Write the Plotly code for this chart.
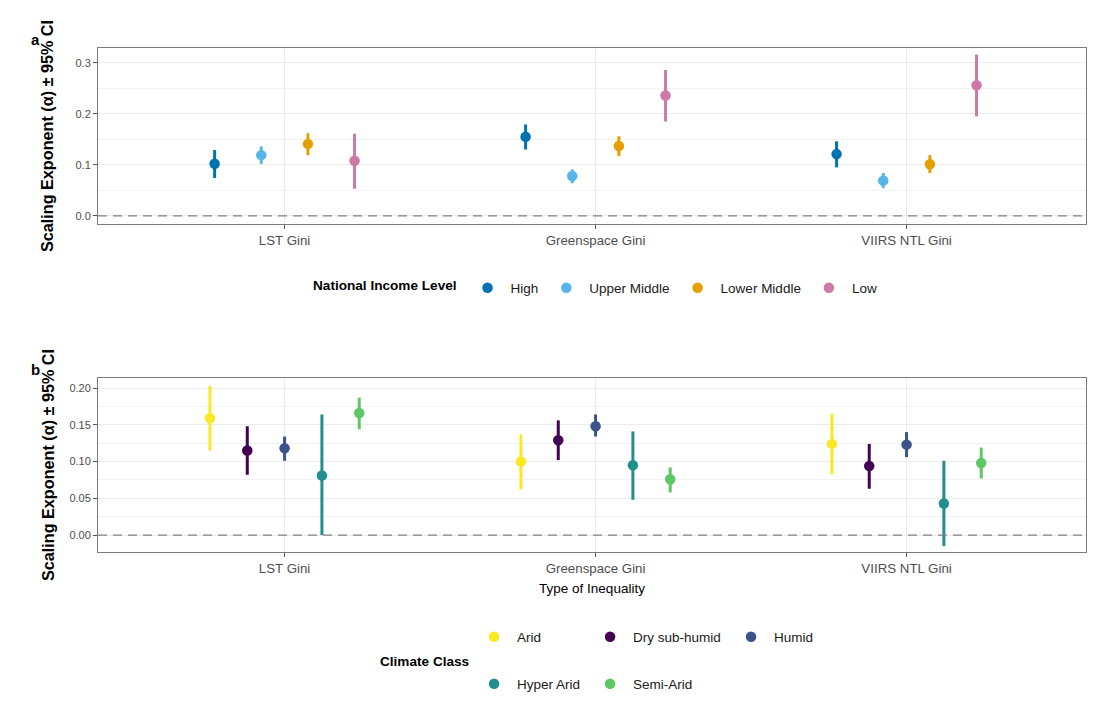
import plotly.graph_objects as go
from plotly.subplots import make_subplots

# categories on the x axis
inequality_types = ["LST Gini", "Greenspace Gini", "VIIRS NTL Gini"]

# panel a: national income level (rows follow income_levels, columns follow inequality_types)
income_levels = ["High", "Upper Middle", "Lower Middle", "Low"]
income_colors = ["#0072B2", "#56B4E9", "#E69F00", "#CC79A7"]
income_est = [
    [0.102, 0.155, 0.121],
    [0.119, 0.078, 0.069],
    [0.141, 0.137, 0.101],
    [0.108, 0.236, 0.256],
]
income_lo = [
    [0.074, 0.130, 0.095],
    [0.102, 0.064, 0.054],
    [0.119, 0.117, 0.084],
    [0.053, 0.185, 0.195],
]
income_hi = [
    [0.129, 0.179, 0.146],
    [0.136, 0.091, 0.084],
    [0.162, 0.156, 0.119],
    [0.161, 0.286, 0.316],
]

# panel b: climate class
climate_classes = ["Arid", "Dry sub-humid", "Humid", "Hyper Arid", "Semi-Arid"]
climate_colors = ["#FDE725", "#440154", "#3B528B", "#21908C", "#5DC863"]
climate_est = [
    [0.159, 0.100, 0.124],
    [0.115, 0.129, 0.094],
    [0.118, 0.148, 0.123],
    [0.081, 0.095, 0.043],
    [0.166, 0.076, 0.098],
]
climate_lo = [
    [0.115, 0.062, 0.083],
    [0.082, 0.102, 0.063],
    [0.101, 0.134, 0.106],
    [0.000, 0.048, -0.015],
    [0.144, 0.058, 0.077],
]
climate_hi = [
    [0.203, 0.137, 0.165],
    [0.148, 0.156, 0.124],
    [0.134, 0.164, 0.140],
    [0.164, 0.141, 0.101],
    [0.187, 0.092, 0.119],
]

FONT = "Liberation Sans, Arial, sans-serif"
DODGE = 0.6
Y_TITLE = "<b>Scaling Exponent (α) ± 95% CI</b>"


def dodge(n, i):
    return -DODGE / 2 + (i + 0.5) * DODGE / n


def add_group(fig, row, names, colors, est, lo, hi, legends):
    n = len(names)
    for i, name in enumerate(names):
        xs = [k + 1 + dodge(n, i) for k in range(len(inequality_types))]
        fig.add_trace(go.Scatter(
            x=xs, y=est[i], mode="markers", name=name,
            marker=dict(color=colors[i], size=10.5),
            error_y=dict(type="data", symmetric=False,
                         array=[h - e for h, e in zip(hi[i], est[i])],
                         arrayminus=[e - l for e, l in zip(est[i], lo[i])],
                         width=0, thickness=3, color=colors[i]),
            legend=legends[i],
        ), row=row, col=1)


fig = make_subplots(rows=2, cols=1)

add_group(fig, 1, income_levels, income_colors, income_est, income_lo, income_hi,
          ["legend"] * 4)
add_group(fig, 2, climate_classes, climate_colors, climate_est, climate_lo, climate_hi,
          ["legend2", "legend3", "legend4", "legend5", "legend6"])

for r in (1, 2):
    fig.add_hline(y=0, line=dict(color="#808080", width=1.2, dash="9px,6px"), row=r, col=1)

axis_common = dict(showline=True, mirror=True, linecolor="#7a7a7a", linewidth=1,
                   ticks="outside", ticklen=4, tickcolor="#555555",
                   gridcolor="#EBEBEB", gridwidth=1, zeroline=False)

for r in (1, 2):
    fig.update_xaxes(range=[0.4, 3.577], tickvals=[1, 2, 3], ticktext=inequality_types,
                     tickfont=dict(family=FONT, size=13.3, color="#4D4D4D"),
                     **axis_common, row=r, col=1)

fig.update_yaxes(range=[-0.016, 0.329], tick0=0, dtick=0.1, tickformat=".1f",
                 minor=dict(dtick=0.05, showgrid=True, gridcolor="#F2F2F2", gridwidth=0.6, ticks=""),
                 tickfont=dict(family=FONT, size=11, color="#4D4D4D"),
                 title=dict(text=Y_TITLE, font=dict(family=FONT, size=16.2, color="black"),
                            standoff=17),
                 **axis_common, row=1, col=1)
fig.update_yaxes(range=[-0.023, 0.2136], tick0=0, dtick=0.05, tickformat=".2f",
                 minor=dict(dtick=0.025, showgrid=True, gridcolor="#F2F2F2", gridwidth=0.6, ticks=""),
                 tickfont=dict(family=FONT, size=11, color="#4D4D4D"),
                 title=dict(text=Y_TITLE, font=dict(family=FONT, size=16.2, color="black"),
                            standoff=10),
                 **axis_common, row=2, col=1)
fig.update_xaxes(title=dict(text="Type of Inequality",
                            font=dict(family=FONT, size=13.5, color="black"), standoff=8),
                 row=2, col=1)

fig.update_layout(
    yaxis=dict(domain=[0.6508, 1.0]),
    yaxis2=dict(domain=[0.0, 0.3452]),
)

item_font = dict(family=FONT, size=13.5, color="#1a1a1a")
legend_b = dict(orientation="h", xanchor="left", yanchor="middle", font=item_font,
                itemwidth=36, bgcolor="rgba(0,0,0,0)")
fig.update_layout(
    legend=dict(orientation="h", x=0.2156, y=0.5238, xanchor="left", yanchor="middle",
                font=item_font, itemwidth=36, bgcolor="rgba(0,0,0,0)",
                title=dict(text="<b>National Income Level</b>", side="left",
                           font=dict(family=FONT, size=13.6, color="black"))),
    legend2=dict(x=0.3776, y=-0.1687, **legend_b),
    legend3=dict(x=0.495, y=-0.1687, **legend_b),
    legend4=dict(x=0.6377, y=-0.1687, **legend_b),
    legend5=dict(x=0.3776, y=-0.262, **legend_b),
    legend6=dict(x=0.495, y=-0.262, **legend_b),
)

fig.add_annotation(x=0.2834, y=-0.2163, xref="paper", yref="paper", xanchor="left",
                   yanchor="middle", showarrow=False, text="<b>Climate Class</b>",
                   font=dict(family=FONT, size=13.6, color="black"))
fig.add_annotation(x=-0.0637, y=1.0159, xref="paper", yref="paper", showarrow=False,
                   xanchor="center", yanchor="middle",
                   text="<b>a</b>", font=dict(family=FONT, size=15, color="black"))
fig.add_annotation(x=-0.0637, y=0.363, xref="paper", yref="paper", showarrow=False,
                   xanchor="center", yanchor="middle",
                   text="<b>b</b>", font=dict(family=FONT, size=15, color="black"))

# page body adds an 8px margin, so the figure is sized to fit inside the window
fig.update_layout(
    width=1079, height=693,
    margin=dict(l=90, r=1, t=40, b=149),
    plot_bgcolor="white", paper_bgcolor="white",
    font=dict(family=FONT),
)

fig.write_html("out.html")
